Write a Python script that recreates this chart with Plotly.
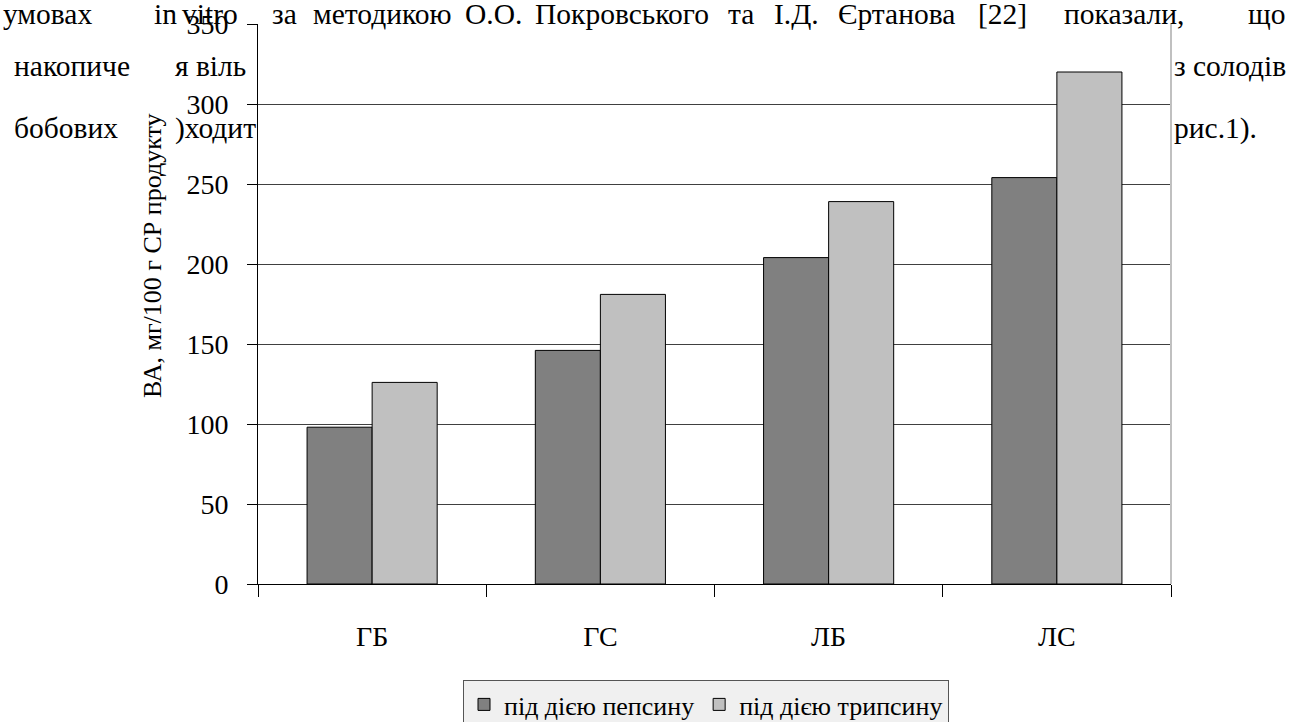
import plotly.graph_objects as go

# ---- chart data ----
categories = ["ГБ", "ГС", "ЛБ", "ЛС"]
pepsin = [98, 146, 204, 254]
trypsin = [126, 181, 239, 320]
series_names = ["під дією пепсину", "під дією трипсину"]
y_tick_values = [0, 50, 100, 150, 200, 250, 300, 350]
y_title = "ВА, мг/100 г СР продукту"

# ---- surrounding page text (scanned document lines around the figure) ----
line1_words = ["умовах", "in", "vitro", "за", "методикою", "О.О.", "Покровського",
               "та", "І.Д.", "Єртанова", "[22]", "показали,", "що"]
line1_x = [1, 152, 180, 270, 311, 463, 533, 726, 772, 836, 976, 1062, 1246]
other_fragments = [("накопиче", 12, 2), ("я віль", 173, 2), ("з солодів", 1172, 2),
                   ("бобових", 12, 3), (")ходит", 173, 3), ("рис.1).", 1172, 3)]
line_baselines = {1: 24, 2: 76, 3: 138}

W, H = 1298, 722
L, R, T, B = 258, 127, 24, 138
PW = W - L - R
PH = H - T - B


def px(x):
    return (x - L) / PW


def py(y):
    return (H - B - y) / PH


SERIF = "Liberation Serif, Times New Roman, serif"
BODY = 29.5

fig = go.Figure()
fig.add_bar(x=categories, y=pepsin, name=series_names[0],
            marker=dict(color="#808080", line=dict(color="#000000", width=1)))
fig.add_bar(x=categories, y=trypsin, name=series_names[1],
            marker=dict(color="#c0c0c0", line=dict(color="#000000", width=1)))

annotations = []
for w, x in zip(line1_words, line1_x):
    annotations.append(dict(text=w, x=px(x), y=py(line_baselines[1] - 0.3375 * BODY),
                            xref="paper", yref="paper", xanchor="left", yanchor="middle",
                            showarrow=False, font=dict(family=SERIF, size=BODY, color="#000")))
for w, x, ln in other_fragments:
    annotations.append(dict(text=w, x=px(x), y=py(line_baselines[ln] - 0.3375 * BODY),
                            xref="paper", yref="paper", xanchor="left", yanchor="middle",
                            showarrow=False, font=dict(family=SERIF, size=BODY, color="#000")))
annotations.append(dict(text=y_title, x=px(153), y=py(256), xref="paper", yref="paper",
                        xanchor="center", yanchor="middle", textangle=-90, showarrow=False,
                        bgcolor="#ffffff",
                        font=dict(family=SERIF, size=26, color="#000")))

fig.update_layout(
    width=W, height=H,
    margin=dict(l=L, r=R, t=T, b=B, autoexpand=False),
    paper_bgcolor="rgba(0,0,0,0)",
    plot_bgcolor="#ffffff",
    barmode="group", bargap=0.43, bargroupgap=0,
    font=dict(family=SERIF, color="#000"),
    showlegend=True,
    legend=dict(orientation="h", x=px(463), y=py(680), xanchor="left", yanchor="top",
                bgcolor="#f0f0f0", bordercolor="#555555", borderwidth=1,
                font=dict(family=SERIF, size=26, color="#000"),
                traceorder="normal"),
    xaxis=dict(showline=True, linecolor="#000", linewidth=1, ticks="outside", ticklen=12,
               tickcolor="#000", tickwidth=1, tickson="boundaries", showgrid=False,
               tickfont=dict(family=SERIF, size=28, color="#000"), ticklabelstandoff=27),
    yaxis=dict(range=[0, 350], tickvals=y_tick_values, showline=True, linecolor="#000",
               linewidth=1, ticks="outside", ticklen=10, tickcolor="#000", showgrid=True,
               gridcolor="#404040", gridwidth=1, zeroline=False,
               tickfont=dict(family=SERIF, size=28, color="#000"), ticklabelstandoff=13),
    annotations=annotations,
    shapes=[dict(type="line", xref="paper", yref="paper", x0=1, x1=1, y0=0, y1=1,
                 line=dict(color="#c0c0c0", width=2))],
)

fig.write_html("out.html", config={"displayModeBar": False},
               post_script="document.body.style.margin='0px';document.body.style.overflow='hidden';")
